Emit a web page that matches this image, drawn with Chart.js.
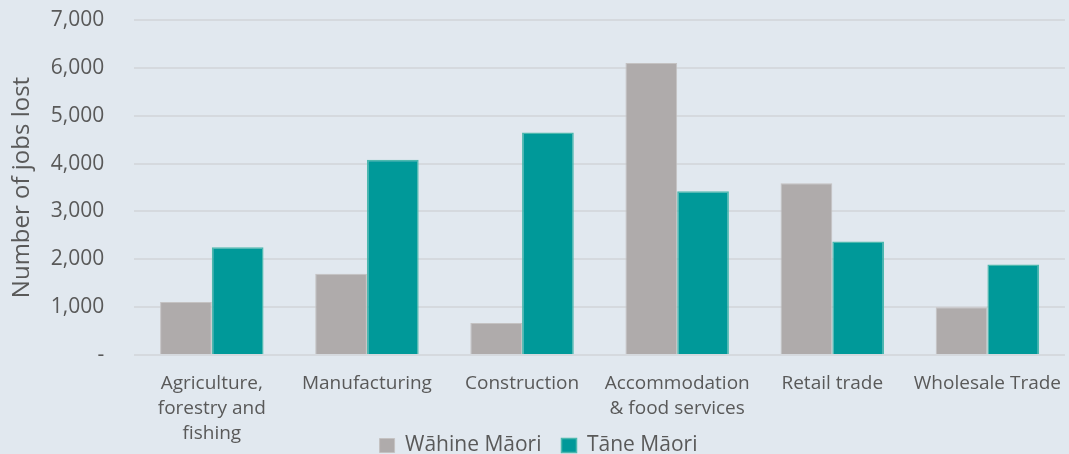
<!DOCTYPE html>
<html>
<head>
<meta charset="utf-8">
<script src="https://cdn.jsdelivr.net/npm/chart.js@4/dist/chart.umd.min.js"></script>
<style>
  html, body { margin: 0; padding: 0; background: #E1E8EF; }
  #wrap { width: 1069px; height: 454px; }
</style>
</head>
<body>
<div id="wrap"><canvas id="myChart" width="1069" height="454"></canvas></div>
<script>
const categories = [
    ['Agriculture,', 'forestry and', 'fishing'],
    'Manufacturing',
    'Construction',
    ['Accommodation', '& food services'],
    'Retail trade',
    'Wholesale Trade'
];
const wahine = [1110, 1700, 670, 6100, 3590, 1000];
const tane = [2250, 4080, 4650, 3420, 2370, 1890];
const yTicks = [0, 1000, 2000, 3000, 4000, 5000, 6000, 7000];

const ctx = document.getElementById('myChart');
const textColor = '#595959';
const fontFamily = '"Open Sans", "Noto Sans", sans-serif';

const data = {
    labels: categories,
    datasets: [{
        label: 'Wāhine Māori',
        data: wahine,
        backgroundColor: '#AFABAB',
        borderColor: '#C4C2C2',
        borderWidth: 1
    }, {
        label: 'Tāne Māori',
        data: tane,
        backgroundColor: '#009999',
        borderColor: '#4DB8AE',
        borderWidth: 1.5
    }]
};

const config = {
    type: 'bar',
    data: data,
    options: {
        responsive: false,
        animation: false,
        layout: { padding: { top: 20, right: 0, left: 8, bottom: -12 } },
        datasets: {
            bar: { categoryPercentage: 0.667, barPercentage: 1.0 }
        },
        scales: {
            x: {
                grid: { display: false },
                border: { display: false },
                ticks: {
                    color: textColor,
                    font: { family: fontFamily, size: 19, lineHeight: 1.32 },
                    maxRotation: 0,
                    autoSkip: false,
                    padding: 8
                },
                // labels run down beside the legend, as in the original
                afterFit: (scale) => {
                    scale.height = 60;
                    scale._computeLabelArea = () => undefined;
                }
            },
            y: {
                min: 0,
                max: 7000,
                afterBuildTicks: (axis) => { axis.ticks = yTicks.map(v => ({ value: v })); },
                grid: { color: '#D5D9DE', lineWidth: 2, drawTicks: true, tickLength: 30, tickColor: 'rgba(0,0,0,0)' },
                border: { display: false },
                ticks: {
                    color: textColor,
                    font: { family: fontFamily, size: 21 },
                    padding: 0,
                    callback: (v) => v === 0 ? '-' : v.toLocaleString('en-US')
                },
                title: {
                    display: true,
                    text: 'Number of jobs lost',
                    color: textColor,
                    font: { family: fontFamily, size: 24 },
                    padding: { top: 0, bottom: 14 }
                }
            }
        },
        plugins: {
            legend: {
                position: 'bottom',
                labels: {
                    color: textColor,
                    font: { family: fontFamily, size: 21 },
                    boxWidth: 15,
                    boxHeight: 14,
                    padding: 20,
                    useBorderRadius: false
                }
            },
            tooltip: { enabled: false }
        }
    }
};

const myChart = new Chart(ctx, config);
</script>
</body>
</html>
